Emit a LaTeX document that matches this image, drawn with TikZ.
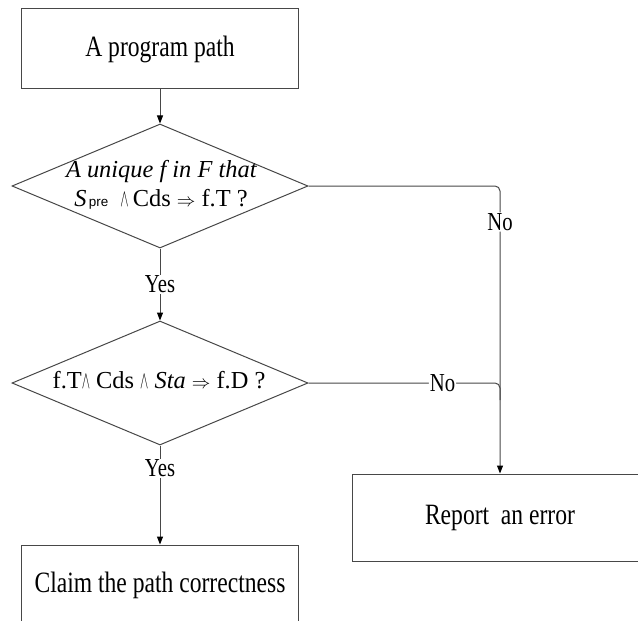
\documentclass[tikz,border=0pt]{standalone}
\usepackage{fontspec}
\usepackage{graphicx}
\setmainfont{Liberation Serif}
\newfontfamily\boxfont[FakeStretch=0.8]{Liberation Serif}
\newfontfamily\subfont{Liberation Sans}
\usetikzlibrary{shapes.geometric,arrows.meta}
% logical symbols used in the decision texts
\newcommand\andsym{\scalebox{0.5}[1]{$\wedge$}}
\newcommand\impsym{\scalebox{0.75}{$\Rightarrow$}}
\begin{document}
\begin{tikzpicture}[x=1bp,y=-1bp,
  line/.style={draw=black!72, line width=1bp},
  arr/.style={line, -{Triangle[length=8bp,width=6bp,color=black]}},
  procbox/.style={line, rectangle, minimum width=276bp, minimum height=80bp,
    inner sep=0pt, font=\boxfont\fontsize{29.6}{34}\selectfont},
  wideproc/.style={procbox, minimum width=296bp, minimum height=87bp},
  decision/.style={line, diamond, minimum width=296bp, minimum height=124bp,
    inner sep=0pt},
  dtext/.style={anchor=base, inner sep=0pt, font=\fontsize{24.5}{26}\selectfont},
  lbl/.style={fill=white, inner sep=1bp, font=\boxfont\fontsize{26}{30}\selectfont}
]
\useasboundingbox (0,0) rectangle (638,621);

% process boxes
\node[procbox] (start) at (160,49) {A program path};
\node[procbox] (claim) at (160,585) {Claim the path correctness};
\node[wideproc] (rep) at (500,517.5) {Report\ \ an error};

% decisions
\node[decision] (d1) at (160,186) {};
\node[dtext, text depth=2bp] (q1a) at (161.5,177.5) {\textit{A unique f in F that}};
\node[dtext, text height=15bp] (q1b) at (161,206)
  {\textit{S}{\subfont\fontsize{13.5}{14}\selectfont\,pre}\ \ \andsym\,Cds \impsym\ f.T ?};

\node[decision] (d2) at (160,383) {};
\node[dtext] (q2) at (159,388)
  {f.T\andsym\ Cds \andsym\ \textit{Sta} \impsym\ f.D ?};

% connectors
\draw[arr] (start.south) -- (d1.north);
\draw[arr] (d1.south) -- node[lbl] (y1) {Yes} (d2.north);
\draw[arr] (d2.south) -- node[lbl, pos=0.23] (y2) {Yes} (claim.north);

\coordinate (m2) at (500,400);
\draw[arr, rounded corners=5bp] (d1.east) -| node[lbl, pos=0.5625] (n1) {No} (rep.north);
\draw[line, rounded corners=5bp] (d2.east) -| node[lbl, pos=0.35] (n2) {No} (m2);
\end{tikzpicture}
\end{document}
